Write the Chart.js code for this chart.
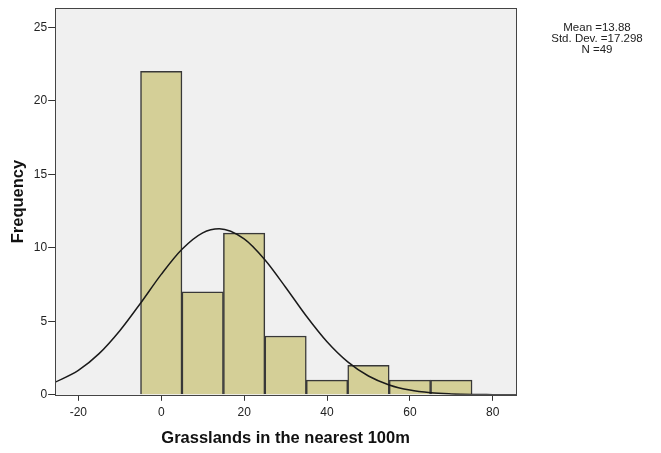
<!DOCTYPE html>
<html>
<head>
<meta charset="utf-8">
<script src="https://cdn.jsdelivr.net/npm/chart.js@4"></script>
<style>
  html, body { margin: 0; padding: 0; background: #fff; }
  #wrap { width: 661px; height: 453px; }
</style>
</head>
<body>
<div id="wrap"><canvas id="hist" width="661" height="453"></canvas></div>
<script>
// histogram bins (centres, width 10) and counts
const binCentres = [0, 10, 20, 30, 40, 50, 60, 70];
const frequencies = [22, 7, 11, 4, 1, 2, 1, 1];

// normal curve
const curveX = [-26, -20, -15, -10, -5, 0, 5, 10, 14, 20, 25, 30, 35, 40, 45, 50, 55, 60, 65, 70, 75, 80, 86];
const curveY = [0.8, 1.66, 2.8, 4.36, 6.23, 8.19, 9.9, 11.02, 11.3, 10.61, 9.19, 7.32, 5.36, 3.61, 2.24, 1.28, 0.67, 0.32, 0.14, 0.06, 0.02, 0.01, 0];

const xTicks = [-20, 0, 20, 40, 60, 80];
const yTicks = [0, 5, 10, 15, 20, 25];
const statsLines = ['Mean =13.88', 'Std. Dev. =17.298', 'N =49'];

const plotFrame = {
  id: 'plotFrame',
  beforeDatasetsDraw(chart) {
    const { ctx, chartArea: a } = chart;
    ctx.save();
    ctx.fillStyle = '#f0f0f0';
    ctx.fillRect(a.left, a.top, a.right - a.left, a.bottom - a.top);
    ctx.restore();
  },
  afterDatasetsDraw(chart) {
    const { ctx, chartArea: a } = chart;
    ctx.save();
    ctx.strokeStyle = '#444';
    ctx.lineWidth = 1;
    ctx.strokeRect(Math.round(a.left) + 0.5, Math.round(a.top) + 0.5,
      Math.round(a.right - a.left), Math.round(a.bottom - a.top));
    // stats box text
    ctx.fillStyle = '#222';
    ctx.font = '11.5px Arial, "Liberation Sans", sans-serif';
    ctx.textAlign = 'center';
    ctx.textBaseline = 'middle';
    statsLines.forEach((t, i) => ctx.fillText(t, 597, 28 + i * 11));
    ctx.restore();
  }
};

const tickFont = { family: 'Arial, "Liberation Sans", sans-serif', size: 12 };
const titleFont = { family: 'Arial, "Liberation Sans", sans-serif', size: 16.5, weight: 'bold' };

new Chart(document.getElementById('hist'), {
  data: {
    datasets: [
      {
        type: 'line',
        data: curveX.map((x, i) => ({ x, y: curveY[i] })),
        borderColor: '#1a1a1a',
        borderWidth: 1.5,
        pointRadius: 0,
        cubicInterpolationMode: 'monotone',
        fill: false,
        clip: 0,
        order: 0
      },
      {
        type: 'bar',
        data: binCentres.map((x, i) => ({ x, y: frequencies[i] })),
        backgroundColor: '#d4cf97',
        borderColor: '#383838',
        borderWidth: 1.5,
        barPercentage: 1,
        categoryPercentage: 1,
        order: 1
      }
    ]
  },
  options: {
    responsive: false,
    animation: false,
    events: [],
    layout: { padding: { left: 9, right: 145, top: 6, bottom: 5 } },
    plugins: { legend: { display: false }, tooltip: { enabled: false } },
    scales: {
      x: {
        type: 'linear',
        min: -25.6,
        max: 85.6,
        offset: false,
        afterBuildTicks: (s) => { s.ticks = xTicks.map((v) => ({ value: v })); },
        grid: { offset: false, drawOnChartArea: false, drawTicks: true, tickLength: 6, color: '#333' },
        border: { display: false },
        ticks: { color: '#222', font: tickFont, padding: 5, maxRotation: 0 },
        title: { display: true, text: 'Grasslands in the nearest 100m', color: '#111', font: titleFont, padding: { top: 3, bottom: 0 } }
      },
      y: {
        min: 0,
        max: 26.3,
        afterBuildTicks: (s) => { s.ticks = yTicks.map((v) => ({ value: v })); },
        grid: { drawOnChartArea: false, drawTicks: true, tickLength: 7, color: '#333' },
        border: { display: false },
        ticks: { color: '#222', font: tickFont, padding: 1 },
        title: { display: true, text: 'Frequency', color: '#111', font: titleFont, padding: { top: 0, bottom: 4 } }
      }
    }
  },
  plugins: [plotFrame]
});
</script>
</body>
</html>
